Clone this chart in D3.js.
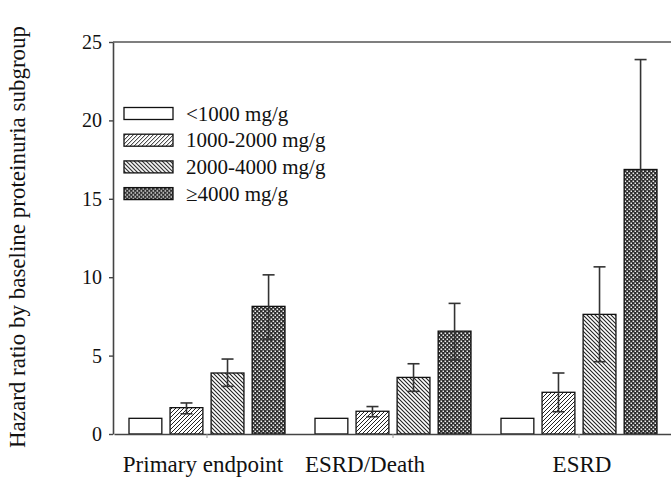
<!DOCTYPE html>
<html>
<head>
<meta charset="utf-8">
<script src="https://cdn.jsdelivr.net/npm/d3@7"></script>
<style>
  body { margin: 0; background: #fff; }
  text { font-family: "Liberation Serif", "Times New Roman", serif; fill: #111; }
</style>
</head>
<body>
<div id="plot"></div>
<script>
let categories = ["Primary endpoint", "ESRD/Death", "ESRD"]
let series = ["<1000 mg/g", "1000-2000 mg/g", "2000-4000 mg/g", "≥4000 mg/g"]

// hazard ratio per category, one value per proteinuria subgroup
let primaryHR = [1, 1.68, 3.89, 8.14]
let esrdDeathHR = [1, 1.45, 3.61, 6.56]
let esrdHR = [1, 2.66, 7.63, 16.87]

// 95% CI bounds (no interval for the reference group)
let primaryLow = [null, 1.29, 3.04, 6.05]
let primaryHigh = [null, 1.98, 4.78, 10.15]
let esrdDeathLow = [null, 1.1, 2.72, 4.72]
let esrdDeathHigh = [null, 1.75, 4.48, 8.33]
let esrdLow = [null, 1.42, 4.61, 9.81]
let esrdHigh = [null, 3.89, 10.66, 23.88]

let yTicks = [0, 5, 10, 15, 20, 25]

let svgWidth = 671
let svgHeight = 481
let margin = { top: 42, right: 0, bottom: 47, left: 113 }
let height = svgHeight - margin.top - margin.bottom

let hr = [primaryHR, esrdDeathHR, esrdHR]
let lows = [primaryLow, esrdDeathLow, esrdLow]
let highs = [primaryHigh, esrdDeathHigh, esrdHigh]

let rows = []
categories.forEach((c, i) => {
  series.forEach((s, j) => {
    rows.push({ cat: c, ser: s, idx: j, v: hr[i][j], lo: lows[i][j], hi: highs[i][j] })
  })
})

let svg = d3.select("#plot")
  .append("svg")
  .attr("width", svgWidth)
  .attr("height", svgHeight)

let defs = svg.append("defs")

defs.append("pattern")
  .attr("id", "fwd")
  .attr("patternUnits", "userSpaceOnUse")
  .attr("width", 4).attr("height", 4)
  .call(p => {
    p.append("rect").attr("width", 4).attr("height", 4).attr("fill", "#fff")
    p.append("path").attr("d", "M-1,1 l2,-2 M0,4 l4,-4 M3,5 l2,-2")
      .attr("stroke", "#222").attr("stroke-width", 1)
  })

defs.append("pattern")
  .attr("id", "back")
  .attr("patternUnits", "userSpaceOnUse")
  .attr("width", 4).attr("height", 4)
  .call(p => {
    p.append("rect").attr("width", 4).attr("height", 4).attr("fill", "#fff")
    p.append("path").attr("d", "M-1,3 l2,2 M0,0 l4,4 M3,-1 l2,2")
      .attr("stroke", "#222").attr("stroke-width", 1.1)
  })

defs.append("pattern")
  .attr("id", "dots")
  .attr("patternUnits", "userSpaceOnUse")
  .attr("width", 4).attr("height", 4)
  .call(p => {
    p.append("rect").attr("width", 4).attr("height", 4).attr("fill", "#2a2a2a")
    p.append("rect").attr("x", 0.5).attr("y", 0.5).attr("width", 1.6).attr("height", 1.6).attr("fill", "#eee")
    p.append("rect").attr("x", 2.5).attr("y", 2.5).attr("width", 1.6).attr("height", 1.6).attr("fill", "#eee")
  })

let fills = ["#fff", "url(#fwd)", "url(#back)", "url(#dots)"]

let x = d3.scaleBand()
  .domain(categories)
  .range([margin.left + 1, margin.left + 559])

let xSub = d3.scaleBand()
  .domain(series)
  .range([15, x.bandwidth() - 15])
  .paddingInner(0.2)

let y = d3.scaleLinear()
  .domain([0, 25])
  .range([margin.top + height, margin.top])

let chart = svg.append("g")

// top frame line
chart.append("line")
  .attr("x1", margin.left).attr("x2", svgWidth)
  .attr("y1", y(25)).attr("y2", y(25))
  .attr("stroke", "#555").attr("stroke-width", 1.6)

// bars
chart.selectAll(".bar")
  .data(rows)
  .enter()
  .append("rect")
  .attr("class", "bar")
  .attr("x", d => x(d.cat) + xSub(d.ser))
  .attr("y", d => y(d.v))
  .attr("width", xSub.bandwidth())
  .attr("height", d => y(0) - y(d.v))
  .attr("fill", d => fills[d.idx])
  .attr("stroke", "#111")
  .attr("stroke-width", 1.3)

// error bars
let errs = rows.filter(d => d.lo != null)
let cap = 6
let eg = chart.selectAll(".err")
  .data(errs)
  .enter()
  .append("g")
  .attr("class", "err")
  .attr("stroke", "#333")
  .attr("stroke-width", 1.6)

eg.append("line")
  .attr("x1", d => x(d.cat) + xSub(d.ser) + xSub.bandwidth() / 2)
  .attr("x2", d => x(d.cat) + xSub(d.ser) + xSub.bandwidth() / 2)
  .attr("y1", d => y(d.lo)).attr("y2", d => y(d.hi))
eg.append("line")
  .attr("x1", d => x(d.cat) + xSub(d.ser) + xSub.bandwidth() / 2 - cap)
  .attr("x2", d => x(d.cat) + xSub(d.ser) + xSub.bandwidth() / 2 + cap)
  .attr("y1", d => y(d.hi)).attr("y2", d => y(d.hi))
eg.append("line")
  .attr("x1", d => x(d.cat) + xSub(d.ser) + xSub.bandwidth() / 2 - cap)
  .attr("x2", d => x(d.cat) + xSub(d.ser) + xSub.bandwidth() / 2 + cap)
  .attr("y1", d => y(d.lo)).attr("y2", d => y(d.lo))

// y axis
let yAxis = chart.append("g")
  .attr("transform", `translate(${margin.left}, 0)`)
  .call(d3.axisLeft(y).tickValues(yTicks).tickSize(4).tickSizeOuter(0).tickPadding(7))
yAxis.select(".domain").attr("stroke", "#444").attr("stroke-width", 1.6)
yAxis.selectAll(".tick line").attr("stroke", "#444").attr("stroke-width", 1.4)
yAxis.selectAll(".tick text")
  .style("font-family", "'Liberation Serif', serif")
  .style("font-size", "20px")
  .attr("fill", "#222")

// x axis
let xAxis = chart.append("g")
  .attr("transform", `translate(0, ${y(0)})`)
  .call(d3.axisBottom(x).tickSize(4).tickSizeOuter(0).tickFormat(""))
xAxis.select(".domain").attr("stroke", "#444").attr("stroke-width", 1.6)
xAxis.selectAll(".tick line").attr("stroke", "#999").attr("stroke-width", 1)

chart.selectAll(".xlab")
  .data(categories)
  .enter()
  .append("text")
  .attr("class", "xlab")
  .attr("x", d => x(d) + x.bandwidth() / 2 + (d == "Primary endpoint" ? -4 : (d == "ESRD/Death" ? -28 : 3)))
  .attr("y", 472)
  .attr("text-anchor", "middle")
  .style("font-size", "23px")
  .text(d => d)

// y axis title
chart.append("text")
  .attr("transform", `translate(25, 237) rotate(-90)`)
  .attr("text-anchor", "middle")
  .style("font-size", "23px")
  .text("Hazard ratio by baseline proteinuria subgroup")

// legend
let legend = chart.selectAll(".legend")
  .data(series)
  .enter()
  .append("g")
  .attr("class", "legend")
  .attr("transform", (d, i) => `translate(124, ${113.5 + i * 26.7})`)

legend.append("rect")
  .attr("x", 0).attr("y", -6)
  .attr("width", 49).attr("height", 12)
  .attr("fill", (d, i) => fills[i])
  .attr("stroke", "#111")
  .attr("stroke-width", 1.3)

legend.append("text")
  .attr("x", 62)
  .attr("y", 7)
  .style("font-size", "21px")
  .text(d => d)
</script>
</body>
</html>
